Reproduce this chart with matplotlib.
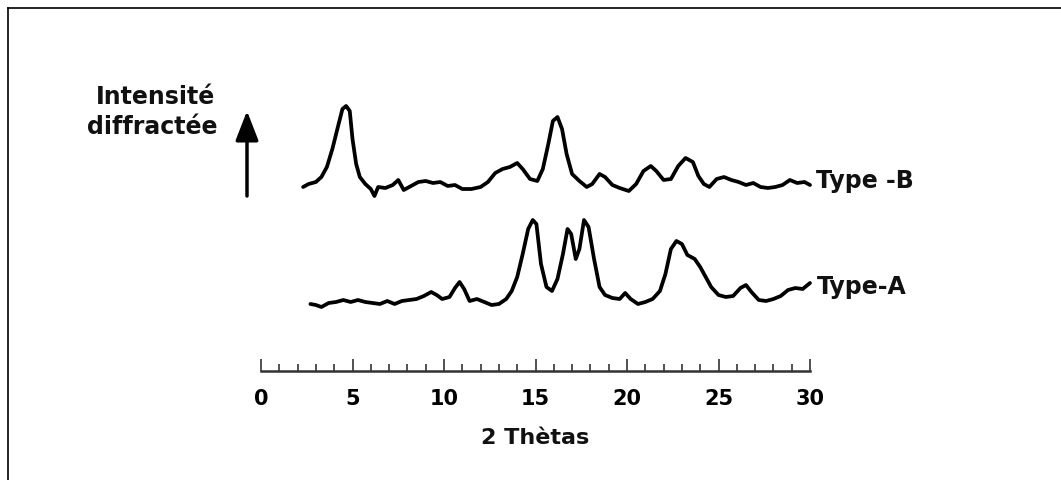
import matplotlib
matplotlib.use("Agg")
import matplotlib.pyplot as plt
from matplotlib.lines import Line2D
from matplotlib.ticker import MultipleLocator

# diffractogram (2 theta, intensity above own baseline)
theta_b = [2.3, 2.6, 3.0, 3.3, 3.6, 3.9, 4.2, 4.45, 4.65, 4.85, 5.0, 5.2, 5.4, 5.7,
           6.0, 6.2, 6.4, 6.8, 7.2, 7.5, 7.8, 8.2, 8.6, 9.0, 9.4, 9.8, 10.2, 10.6,
           11.0, 11.5, 12.0, 12.4, 12.8, 13.2, 13.6, 14.0, 14.3, 14.7, 15.1, 15.4,
           15.7, 15.95, 16.2, 16.45, 16.7, 17.0, 17.4, 17.8, 18.1, 18.5, 18.8, 19.2,
           19.6, 20.1, 20.5, 20.9, 21.3, 21.6, 22.0, 22.4, 22.8, 23.2, 23.6, 23.9,
           24.2, 24.5, 24.9, 25.3, 25.7, 26.1, 26.5, 26.9, 27.3, 27.7, 28.1, 28.5,
           28.9, 29.3, 29.7, 30.0]
int_b = [2, 5, 7, 12, 22, 40, 62, 80, 83, 78, 50, 25, 12, 5,
         0, -7, 2, 1, 4, 9, -1, 3, 7, 8, 6, 7, 3, 4,
         0, 0, 2, 7, 16, 20, 22, 26, 20, 10, 8, 20,
         45, 68, 72, 60, 35, 15, 8, 2, 5, 15, 12, 4,
         1, -2, 5, 18, 23, 18, 9, 10, 23, 31, 27, 13,
         5, 2, 10, 12, 9, 7, 4, 6, 2, 1, 2, 4,
         9, 6, 7, 4]

theta_a = [2.7, 3.0, 3.3, 3.7, 4.1, 4.5, 4.9, 5.3, 5.7, 6.1, 6.5, 6.9, 7.3, 7.7,
           8.1, 8.5, 8.9, 9.3, 9.6, 9.9, 10.3, 10.6, 10.85, 11.1, 11.4, 11.8, 12.2,
           12.6, 13.0, 13.4, 13.7, 14.0, 14.3, 14.6, 14.85, 15.05, 15.3, 15.6, 15.9,
           16.2, 16.5, 16.75, 16.95, 17.2, 17.4, 17.65, 17.9, 18.2, 18.5, 18.8, 19.2,
           19.6, 19.9, 20.2, 20.6, 21.0, 21.4, 21.8, 22.1, 22.4, 22.7, 23.0, 23.3,
           23.7, 24.0, 24.3, 24.6, 25.0, 25.4, 25.8, 26.2, 26.5, 26.8, 27.2, 27.6,
           28.0, 28.4, 28.8, 29.2, 29.6, 30.0]
int_a = [3, 2, 0, 4, 5, 7, 5, 7, 5, 4, 3, 6, 3, 6,
         7, 8, 11, 15, 12, 8, 10, 19, 25, 18, 6, 8, 5,
         2, 3, 8, 16, 30, 53, 78, 87, 83, 43, 20, 16,
         28, 53, 78, 73, 48, 58, 87, 80, 48, 20, 12, 9,
         8, 14, 8, 3, 5, 8, 16, 33, 58, 66, 63, 52,
         48, 40, 30, 20, 12, 10, 11, 19, 22, 15, 7, 6,
         8, 11, 17, 19, 18, 24]

ruler_ticks = [0, 5, 10, 15, 20, 25, 30]

W, H = 1061, 481
x0_px, px_per_deg = 261, 18.3

fig = plt.figure(figsize=(W / 100, H / 100), dpi=100)
ax = fig.add_axes([0, 0, 1, 1])
ax.set_xlim(-x0_px / px_per_deg, (W - x0_px) / px_per_deg)
ax.set_ylim(0, H)
ax.axis("off")

# offsets so the two traces sit one above the other
off_b = H - 190
off_a = H - 308
ax.plot(theta_b, [v + off_b for v in int_b], color="black", lw=2.7,
        solid_joinstyle="round", solid_capstyle="round")
ax.plot(theta_a, [v + off_a for v in int_a], color="black", lw=2.7,
        solid_joinstyle="round", solid_capstyle="round")

font = dict(family="DejaVu Sans", weight="bold", color="#111111")
ax.text(30.35, H - 181, "Type -B", ha="left", va="center", fontsize=17, **font)
ax.text(30.35, H - 287, "Type-A", ha="left", va="center", fontsize=17, **font)

ax.text((155 - x0_px) / px_per_deg, H - 97, "Intensité", ha="center",
        va="center", fontsize=17, **font)
ax.text((152 - x0_px) / px_per_deg, H - 127, "diffractée", ha="center",
        va="center", fontsize=17, **font)

# upward arrow
ax_x = (247 - x0_px) / px_per_deg
ax.annotate("", xy=(ax_x, H - 112), xytext=(ax_x, H - 197),
            arrowprops=dict(arrowstyle="-|>,head_length=0.9,head_width=0.35",
                            lw=2.5, color="black", mutation_scale=20,
                            shrinkA=0, shrinkB=0))

# ruler axis
rx = fig.add_axes([x0_px / W, (H - 372) / H, 30 * px_per_deg / W, 0.05])
rx.set_xlim(0, 30)
rx.set_ylim(0, 1)
for s in ["top", "left", "right"]:
    rx.spines[s].set_visible(False)
rx.spines["bottom"].set_linewidth(1.8)
rx.spines["bottom"].set_color("#333333")
rx.patch.set_alpha(0)
rx.set_yticks([])
rx.set_xticks(ruler_ticks)
rx.xaxis.set_minor_locator(MultipleLocator(1))
rx.tick_params(axis="x", which="major", direction="in", length=9, width=1.2,
               color="#333333", pad=12)
rx.tick_params(axis="x", which="minor", direction="in", length=5, width=1.2,
               color="#333333")
for lab in rx.get_xticklabels():
    lab.set_fontsize(15)
    lab.set_fontweight("bold")
    lab.set_family("DejaVu Sans")

ax.text((535 - x0_px) / px_per_deg, H - 438, "2 Thètas", ha="center",
        va="center", fontsize=16, **font)

# frame lines at top and left
fig.add_artist(Line2D([8 / W, 1], [1 - 9 / H, 1 - 9 / H], color="black", lw=1.2))
fig.add_artist(Line2D([8 / W, 8 / W], [0, 1 - 9 / H], color="black", lw=1.2))

fig.savefig("out.png", dpi=100)
